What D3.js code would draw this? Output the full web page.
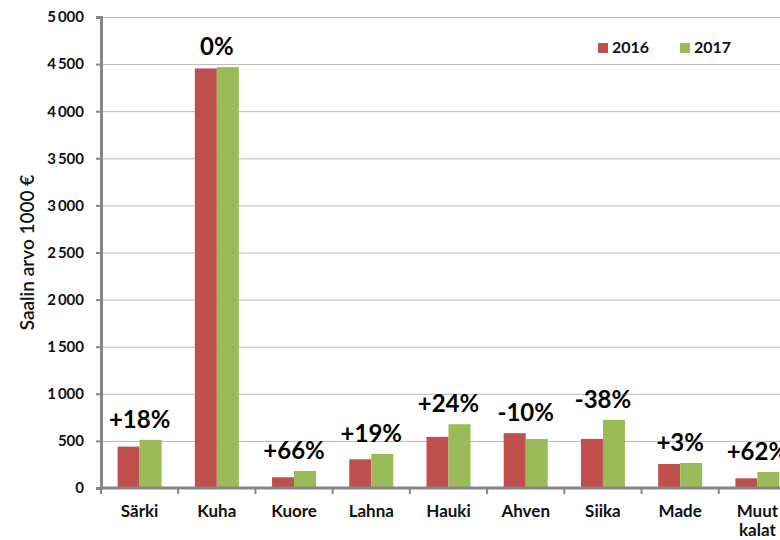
<!DOCTYPE html>
<html>
<head>
<meta charset="utf-8">
<script src="https://cdn.jsdelivr.net/npm/d3@7"></script>
<style>
  body { margin: 0; background: #fff; }
  svg { display: block; font-family: Lato, "Open Sans", sans-serif; }
</style>
</head>
<body>
<div id="chart"></div>
<script>
// fish species and catch value (1000 €)
const categories = ["Särki", "Kuha", "Kuore", "Lahna", "Hauki", "Ahven", "Siika", "Made", "Muut kalat"];
const series = ["2016", "2017"];
const values2016 = [439, 4454, 114, 305, 543, 582, 521, 255, 103];
const values2017 = [511, 4468, 181, 362, 677, 521, 723, 266, 170];
const changeLabels = ["+18%", "0%", "+66%", "+19%", "+24%", "-10%", "-38%", "+3%", "+62%"];
const yTicks = [0, 500, 1000, 1500, 2000, 2500, 3000, 3500, 4000, 4500, 5000];

const colors = d3.scaleOrdinal().domain(series).range(["#C0504D", "#9BBB59"]);

const width = 780, height = 540;
const margin = {top: 17, right: -16, bottom: 52, left: 101};

const svg = d3.select("#chart").append("svg")
    .attr("width", width)
    .attr("height", height);

let y = d3.scaleLinear()
    .domain([0, 5000])
    .range([height - margin.bottom, margin.top]);

let x0 = d3.scaleBand()
    .domain(categories)
    .range([margin.left, width - margin.right])
    .paddingInner(0.43)
    .paddingOuter(0.215);

let x1 = d3.scaleBand()
    .domain(series)
    .range([0, x0.bandwidth()]);

let step = x0.step();

// gridlines
svg.append("g")
    .selectAll("line")
    .data(yTicks.slice(1))
    .enter().append("line")
    .attr("x1", margin.left)
    .attr("x2", width)
    .attr("y1", d => y(d) + 0.5)
    .attr("y2", d => y(d) + 0.5)
    .attr("stroke", "#b9b9b9")
    .attr("stroke-width", 1);

// bars
let data = categories.map((c, i) => ({cat: c, vals: [values2016[i], values2017[i]], label: changeLabels[i]}));

let group = svg.append("g")
    .selectAll("g")
    .data(data)
    .enter().append("g")
    .attr("transform", d => "translate(" + x0(d.cat) + ",0)");

group.selectAll("rect")
    .data(d => d.vals.map((v, j) => ({key: series[j], value: v})))
    .enter().append("rect")
    .attr("x", d => x1(d.key))
    .attr("y", d => y(d.value))
    .attr("width", x1.bandwidth())
    .attr("height", d => y(0) - y(d.value))
    .attr("fill", d => colors(d.key));

// change labels
svg.append("g")
    .selectAll("text")
    .data(data)
    .enter().append("text")
    .attr("x", d => x0(d.cat) + x0.bandwidth() / 2)
    .attr("y", d => y(d3.max(d.vals)) - 12)
    .attr("text-anchor", "middle")
    .attr("font-size", 24)
    .attr("font-weight", "bold")
    .attr("fill", "#000")
    .text(d => d.label);

// y axis
let yAxis = d3.axisLeft(y)
    .tickValues(yTicks)
    .tickSize(5)
    .tickPadding(12)
    .tickFormat(d => d3.format(",")(d).replace(/,/g, "\u2009"));

let gy = svg.append("g")
    .attr("transform", "translate(" + margin.left + ",0)")
    .call(yAxis);
gy.select(".domain").attr("stroke", "#868686").attr("stroke-width", 3);
gy.selectAll(".tick line").attr("stroke", "#868686").attr("stroke-width", 2);
gy.selectAll(".tick text")
    .attr("font-family", "Lato, sans-serif")
    .attr("font-size", 15)
    .attr("font-weight", "bold")
    .attr("fill", "#111");

// x axis line and boundary ticks
let xBase = y(0);
svg.append("line")
    .attr("x1", margin.left)
    .attr("x2", width)
    .attr("y1", xBase)
    .attr("y2", xBase)
    .attr("stroke", "#868686")
    .attr("stroke-width", 3);

svg.append("g")
    .selectAll("line")
    .data(d3.range(categories.length + 1))
    .enter().append("line")
    .attr("x1", i => margin.left + i * step)
    .attr("x2", i => margin.left + i * step)
    .attr("y1", xBase)
    .attr("y2", xBase + 6)
    .attr("stroke", "#868686")
    .attr("stroke-width", 2);

// category labels
let catText = svg.append("g")
    .selectAll("text")
    .data(categories)
    .enter().append("text")
    .attr("x", d => x0(d) + x0.bandwidth() / 2)
    .attr("y", 517)
    .attr("text-anchor", "middle")
    .attr("font-size", 17)
    .attr("font-weight", "bold")
    .attr("fill", "#111");

catText.selectAll("tspan")
    .data(d => d.split(" "))
    .enter().append("tspan")
    .attr("x", function () { return d3.select(this.parentNode).attr("x"); })
    .attr("dy", (d, i) => i === 0 ? 0 : 19)
    .text(d => d);

// y axis title
svg.append("text")
    .attr("transform", "translate(34," + (y(0) + y(5000)) / 2 + ") rotate(-90)")
    .attr("text-anchor", "middle")
    .attr("font-size", 19)
    .attr("font-weight", 600)
    .attr("fill", "#111")
    .text("Saalin arvo 1000 €");

// legend
let legend = svg.append("g")
    .attr("transform", "translate(598,43)")
    .selectAll("g")
    .data(series)
    .enter().append("g")
    .attr("transform", (d, i) => "translate(" + i * 82 + ",0)");

legend.append("rect")
    .attr("width", 10)
    .attr("height", 10)
    .attr("fill", d => colors(d));

legend.append("text")
    .attr("x", 14)
    .attr("y", 10)
    .attr("font-size", 16)
    .attr("font-weight", "bold")
    .attr("fill", "#111")
    .text(d => d);
</script>
</body>
</html>
